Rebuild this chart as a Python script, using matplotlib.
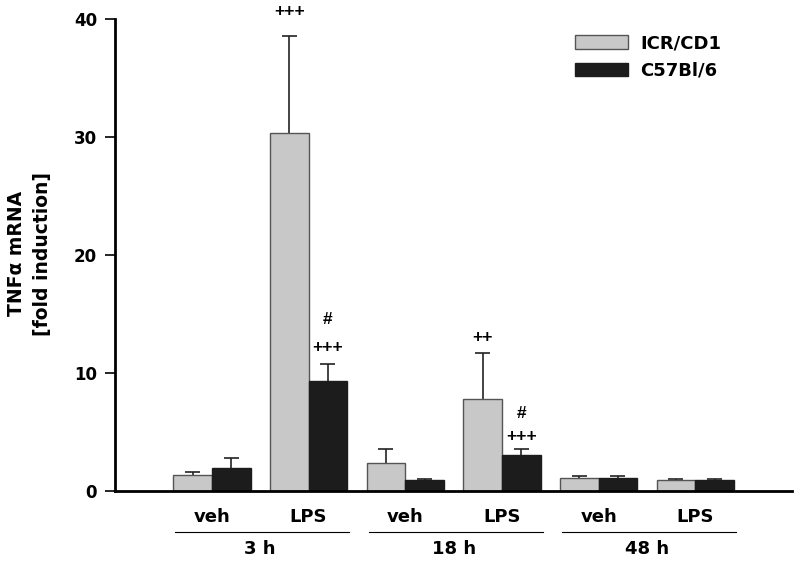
import matplotlib
matplotlib.use("Agg")
import matplotlib.pyplot as plt
import numpy as np

plt.rcParams['font.family'] = ['DejaVu Sans']
plt.rcParams['font.weight'] = 'bold'

# data
times = ['3 h', '18 h', '48 h']
treat = ['veh', 'LPS', 'veh', 'LPS', 'veh', 'LPS']
icr = [1.3, 30.3, 2.35, 7.8, 1.1, 0.92]
icr_err = [0.25, 8.3, 1.15, 3.9, 0.17, 0.08]
c57 = [1.95, 9.25, 0.9, 3.05, 1.1, 0.9]
c57_err = [0.8, 1.5, 0.1, 0.5, 0.15, 0.1]
# significance marks: (bar index, series, text, y)
marks = [(1, 0, '+++', 40.6), (1, 1, '+++', 12.1), (1, 1, '#', 14.5),
         (3, 0, '++', 12.95), (3, 1, '+++', 4.6), (3, 1, '#', 6.5)]

fig = plt.figure(figsize=(8, 5.64), dpi=100)
ax = fig.add_axes([0.144, 0.1303, 0.846, 0.836])

x = np.arange(1, 7)
w = 0.4
cap = 0.155
for xs, vals, errs, fc, ec, lab in [(x - w/2, icr, icr_err, '#c8c8c8', '#555555', 'ICR/CD1'),
                                     (x + w/2, c57, c57_err, '#1c1c1c', '#1c1c1c', 'C57Bl/6')]:
    ax.bar(xs, vals, w, color=fc, edgecolor=ec, linewidth=1, label=lab, zorder=2)
    tops = np.array(vals) + np.array(errs)
    ax.vlines(xs, vals, tops, color='#222222', lw=1.2, zorder=1)
    ax.hlines(tops, xs - cap/2, xs + cap/2, color='#222222', lw=1.2, zorder=1, clip_on=False)

for i, s, t, yy in marks:
    xx = x[i] - w/2 if s == 0 else x[i] + w/2
    ax.text(xx, yy, t, ha='center', va='center', fontsize=12.5, fontweight='bold',
            family='Liberation Sans', clip_on=False)

ax.set_xlim(0, 7)
ax.set_ylim(0, 40)
ax.set_yticks([0, 10, 20, 30, 40])
ax.tick_params(axis='y', direction='out', length=7, width=1.2, labelsize=12, pad=6)
ax.set_xticks([])
for lab in ax.get_yticklabels():
    lab.set_fontweight('bold')
ax.spines['top'].set_visible(False)
ax.spines['right'].set_visible(False)
ax.spines['left'].set_linewidth(2)
ax.spines['bottom'].set_linewidth(2)

tr = ax.get_xaxis_transform()
for i, t in enumerate(treat):
    ax.text(x[i], -0.056, t, transform=tr, ha='center', va='center', fontsize=13, fontweight='bold')
for g, t in enumerate(times):
    a = x[2*g] - w + 0.02
    b = x[2*g+1] + w + 0.02
    ax.plot([a, b], [-0.088, -0.088], transform=tr, color='black', lw=0.8, clip_on=False)
    ax.text((x[2*g] + x[2*g+1]) / 2, -0.123, t, transform=tr, ha='center', va='center',
            fontsize=13, fontweight='bold')

fig.text(0.037, 0.5505, 'TNF\u03b1 mRNA\n[fold induction]', rotation=90, ha='center', va='center',
         fontsize=13.5, fontweight='bold', linespacing=1.5)

ax.legend(loc='upper left', bbox_to_anchor=(0.708, 0.955), bbox_transform=fig.transFigure,
          frameon=False, fontsize=13, handlelength=2.9, handleheight=0.75,
          labelspacing=0.5, handletextpad=0.7, borderpad=0)

fig.savefig('out.png', dpi=100)
